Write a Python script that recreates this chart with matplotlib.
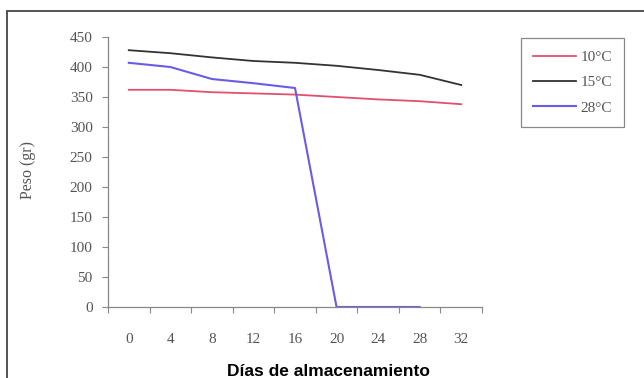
import numpy as np
import matplotlib.pyplot as plt
from matplotlib.patches import Rectangle

dias = ["0", "4", "8", "12", "16", "20", "24", "28", "32"]
peso_10 = [362, 362, 358, 356, 354, 350, 346, 343, 338]
peso_15 = [428, 423, 416, 410, 407, 402, 395, 387, 370]
peso_28 = [407, 400, 380, 373, 365, 0, 0, 0]

serif = ["Liberation Serif", "DejaVu Serif"]
gris = "#555555"

fig = plt.figure(figsize=(6.44, 3.78), dpi=100)
ax = fig.add_axes([108 / 644, 71 / 378, 374 / 644, 270 / 378])

x = np.arange(len(dias))
ax.plot(x, peso_10, color="#e0506e", lw=1.3, label="10°C")
ax.plot(x, peso_15, color="#333333", lw=1.3, label="15°C")
ax.plot(x[:len(peso_28)], peso_28, color="#6a5ce6", lw=1.5, label="28°C")

ax.set_xlim(-0.5, len(dias) - 0.5)
ax.set_ylim(0, 450)
ax.set_yticks(np.arange(0, 451, 50))
ax.set_xticks(np.arange(-0.5, len(dias), 1.0))
ax.set_xticklabels([])
ax.set_xticks(x, minor=True)
ax.set_xticklabels(dias, minor=True)
ax.tick_params(axis="x", which="minor", length=0, pad=19)
ax.tick_params(axis="x", which="major", length=4, color="#888888")
ax.tick_params(axis="y", length=4, color="#888888", pad=7)
for lab in ax.get_xticklabels(minor=True) + ax.get_yticklabels():
    lab.set_family(serif)
    lab.set_fontsize(11)
    lab.set_color(gris)

for s in ["top", "right"]:
    ax.spines[s].set_visible(False)
for s in ["left", "bottom"]:
    ax.spines[s].set_color("#888888")
    ax.spines[s].set_linewidth(0.9)

fig.text(28 / 644, 1 - 170 / 378, "Peso (gr)", rotation=90, ha="center", va="center",
         family=serif, fontsize=11.5, color=gris)
fig.text(328 / 644, 1 - 371 / 378, "Días de almacenamiento", ha="center", va="center",
         family="Liberation Sans", fontweight="bold", fontsize=12.5, color="black")

leg = ax.legend(loc="center", bbox_to_anchor=(515 / 644, 1 - 127 / 378, 115 / 644, 89 / 378),
                bbox_transform=fig.transFigure, prop={"family": serif, "size": 11},
                handlelength=2.8, handletextpad=0.3, labelspacing=0.75, fancybox=False,
                framealpha=1, borderpad=0.8)
leg.get_frame().set_edgecolor("#888888")
leg.get_frame().set_linewidth(0.9)
for t in leg.get_texts():
    t.set_color(gris)

fig.patches.append(Rectangle((7 / 644, -0.1), 1.2, 1.1 - 11 / 378, transform=fig.transFigure,
                             fill=False, edgecolor="#444444", lw=1.3))

fig.savefig("out.png", dpi=100)
